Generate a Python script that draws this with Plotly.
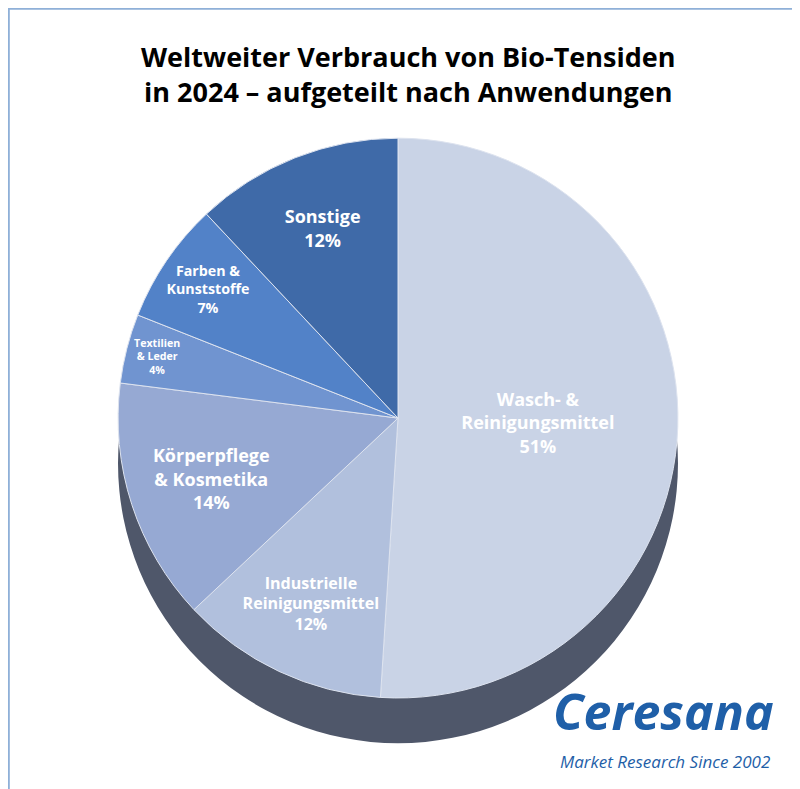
import plotly.graph_objects as go

labels = ["Wasch- &<br>Reinigungsmittel", "Industrielle<br>Reinigungsmittel", "Körperpflege<br>& Kosmetika",
          "Textilien<br>& Leder", "Farben &<br>Kunststoffe", "Sonstige"]
values = [51, 12, 14, 4, 7, 12]
colors = ["#c9d3e6", "#b1c0dd", "#96a9d3", "#7094d0", "#5282c8", "#3f6aa8"]

fig = go.Figure()
fig.add_trace(go.Pie(values=[1], marker=dict(colors=["#4f576a"], line=dict(width=0)),
                     textinfo="none", hoverinfo="skip", showlegend=False, sort=False,
                     domain=dict(x=[0.1375, 0.8375], y=[0.068, 0.778])))
fig.add_trace(go.Pie(labels=labels, values=values, sort=False, direction="clockwise", rotation=0,
                     marker=dict(colors=colors, line=dict(color="#dde3ef", width=1)),
                     texttemplate="<b>%{label}<br>%{value}%</b>", textposition="inside",
                     insidetextorientation="horizontal",
                     textfont=dict(family="Open Sans", size=18, color="white"),
                     showlegend=False, domain=dict(x=[0.1375, 0.8375], y=[0.1255, 0.835])))
fig.update_layout(
    width=800, height=789, margin=dict(l=0, r=0, t=0, b=0),
    paper_bgcolor="white",
    annotations=[
        dict(text="<b>Weltweiter Verbrauch von Bio-Tensiden<br>in 2024 – aufgeteilt nach Anwendungen</b>",
             x=0.5, y=0.965, xref="paper", yref="paper", showarrow=False, yanchor="top",
             font=dict(family="Open Sans", size=27, color="black")),
        dict(text="<b><i>Ceresana</i></b>", x=0.96, y=0.063, xref="paper", yref="paper", showarrow=False,
             xanchor="right", yanchor="bottom", font=dict(family="Open Sans", size=50, color="#1f5fa8")),
        dict(text="<i>Market Research Since 2002</i>", x=0.955, y=0.028, xref="paper", yref="paper",
             showarrow=False, xanchor="right", yanchor="bottom",
             font=dict(family="Open Sans", size=17, color="#1f5fa8")),
    ],
    shapes=[dict(type="rect", xref="paper", yref="paper", x0=0.001, y0=0.001, x1=0.999, y1=0.999,
                 line=dict(color="#8fb0d8", width=2))],
)
fig.write_html("out.html")
